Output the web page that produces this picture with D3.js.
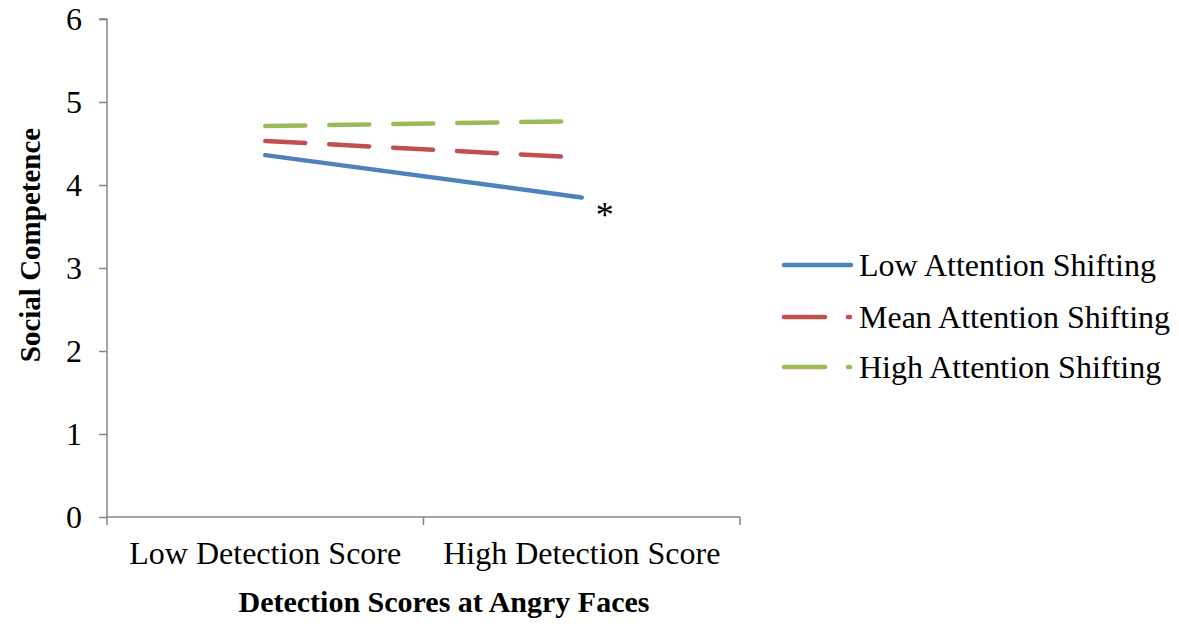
<!DOCTYPE html>
<html><head><meta charset="utf-8">
<script src="https://cdn.jsdelivr.net/npm/d3@7"></script>
<style>body{margin:0;background:#fff}</style>
</head><body>
<svg id="c" width="1179" height="626"></svg>
<script>
const categories = ["Low Detection Score", "High Detection Score"];
const yTicks = [0, 1, 2, 3, 4, 5, 6];
const seriesNames = ["Low Attention Shifting", "Mean Attention Shifting", "High Attention Shifting"];
const lowShift = [4.36, 3.85];
const meanShift = [4.53, 4.33];
const highShift = [4.71, 4.77];
const seriesValues = [lowShift, meanShift, highShift];
const colors = ["#4F81BD", "#C0504D", "#9BBB59"];
const dashed = [false, true, true];

(function () {
const svg = d3.select("#c");
const font = "'Liberation Serif','Times New Roman',serif";
const pL = 107, pR = 740, pT = 19, pB = 517;

const x = d3.scaleBand().domain(categories).range([pL, pR]);
const y = d3.scaleLinear().domain([0, 6]).range([pB, pT]);

// Y axis
const ya = svg.append("g").attr("transform", `translate(${pL},0)`)
  .call(d3.axisLeft(y).tickValues(yTicks).tickSize(8).tickPadding(17).tickFormat(d3.format("d")));
ya.select(".domain").attr("stroke", "#868686").attr("stroke-width", 1.5).attr("d", `M-8,${pT}H0V${pB}`);
ya.selectAll(".tick line").attr("stroke", "#868686").attr("stroke-width", 1.5);
ya.selectAll(".tick text").attr("font-family", font).attr("font-size", 32).attr("fill", "#000");

// X axis
const xa = svg.append("g").attr("transform", `translate(0,${pB})`);
xa.append("line").attr("x1", pL).attr("x2", pR).attr("stroke", "#868686").attr("stroke-width", 1.5);
const bounds = [pL, ...categories.map(c => x(c) + x.bandwidth())];
xa.selectAll(".xt").data(bounds).enter().append("line")
  .attr("x1", d => d).attr("x2", d => d).attr("y1", 0).attr("y2", 8)
  .attr("stroke", "#868686").attr("stroke-width", 1.5);
xa.selectAll(".xl").data(categories).enter().append("text")
  .attr("x", d => x(d) + x.bandwidth() / 2).attr("y", 47)
  .attr("text-anchor", "middle").attr("font-family", font).attr("font-size", 32).text(d => d);

// Axis titles
svg.append("text").attr("x", 444).attr("y", 612)
  .attr("text-anchor", "middle").attr("font-family", font).attr("font-size", 30).attr("font-weight", "bold")
  .text("Detection Scores at Angry Faces");
svg.append("text").attr("transform", `translate(40,245) rotate(-90)`)
  .attr("text-anchor", "middle").attr("font-family", font).attr("font-size", 29).attr("font-weight", "bold")
  .text("Social Competence");

// Lines
const line = d3.line().x((d, i) => x(categories[i]) + x.bandwidth() / 2).y(d => y(d));
seriesValues.forEach((vals, k) => {
  svg.append("path").datum(vals).attr("d", line)
    .attr("fill", "none").attr("stroke", colors[k]).attr("stroke-width", 4.5)
    .attr("stroke-linecap", "round")
    .attr("stroke-dasharray", dashed[k] ? "40,24" : null);
});

// Asterisk
svg.append("text").attr("x", x(categories[1]) + x.bandwidth() / 2 + 23).attr("y", y(lowShift[1]) + 30)
  .attr("text-anchor", "middle").attr("font-family", font).attr("font-size", 36).text("*");

// Legend
const lg = svg.append("g");
const rows = [265, 317, 367];
seriesNames.forEach((n, k) => {
  const gy = rows[k];
  if (dashed[k]) {
    lg.append("line").attr("x1", 784).attr("x2", 825).attr("y1", gy).attr("y2", gy)
      .attr("stroke", colors[k]).attr("stroke-width", 4.5).attr("stroke-linecap", "round");
    lg.append("line").attr("x1", 848).attr("x2", 850).attr("y1", gy).attr("y2", gy)
      .attr("stroke", colors[k]).attr("stroke-width", 4.5).attr("stroke-linecap", "round");
  } else {
    lg.append("line").attr("x1", 784).attr("x2", 851).attr("y1", gy).attr("y2", gy)
      .attr("stroke", colors[k]).attr("stroke-width", 4.5).attr("stroke-linecap", "round");
  }
  lg.append("text").attr("x", 859).attr("y", gy).attr("dy", "0.33em")
    .attr("font-family", font).attr("font-size", 32).text(n);
});
})();
</script>
</body></html>
